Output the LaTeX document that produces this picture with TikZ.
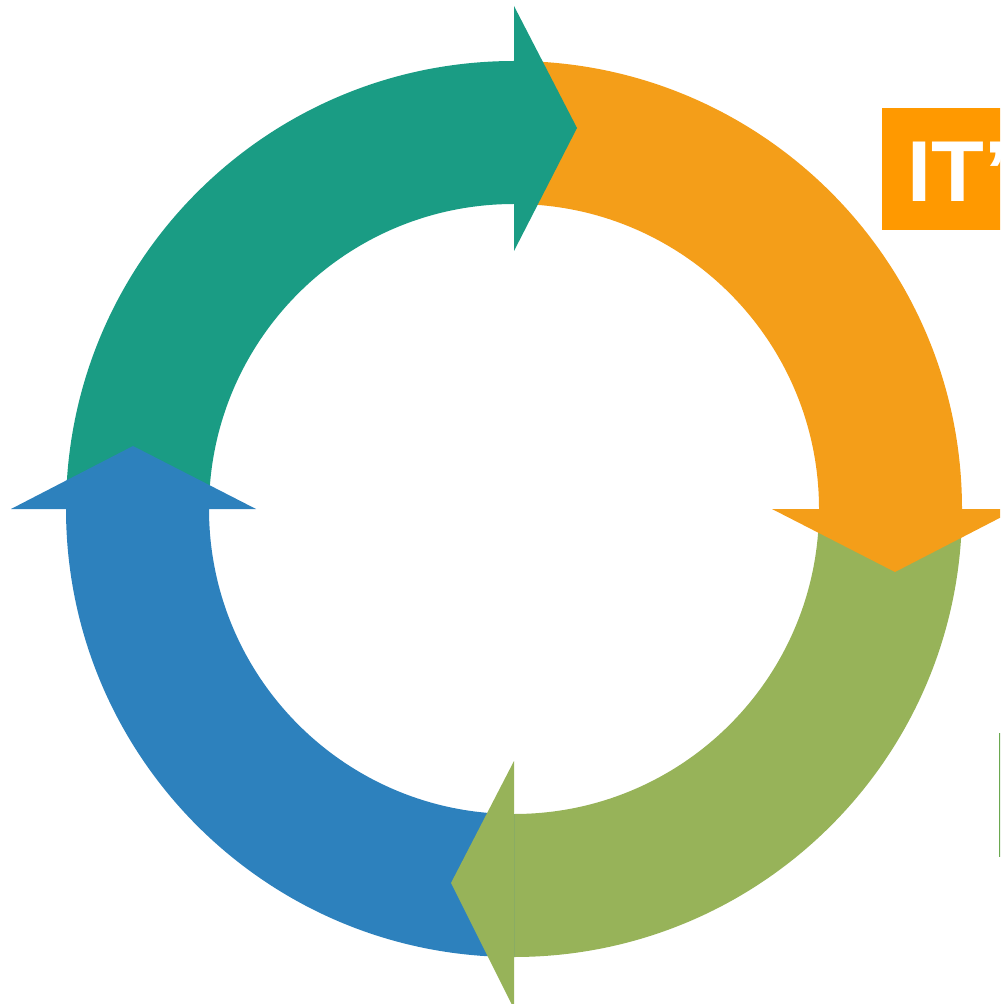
\documentclass[tikz,border=0pt]{standalone}
\usepackage{fontspec}
\setmainfont{Liberation Sans}
\usetikzlibrary{calc}
\definecolor{cycTeal}{HTML}{1A9C84}
\definecolor{cycOrange}{HTML}{F49E19}
\definecolor{cycLime}{HTML}{97B359}
\definecolor{cycBlue}{HTML}{2D81BD}
\definecolor{tagOrange}{HTML}{FF9900}
\definecolor{edgeGreen}{HTML}{6AA84F}
\begin{document}
\begin{tikzpicture}[x=0.1mm,y=-0.1mm]
\useasboundingbox (0,0) rectangle (1000,1004);
\clip (0,0) rectangle (1000,1004);
\coordinate (c) at (514,509);
% ring segments: outer radius 448, inner radius 305
\foreach \a/\col in {180/cycTeal,270/cycOrange,0/cycLime,90/cycBlue}{
  \fill[\col] ($(c)+(\a:448)$) arc[start angle=\a, end angle=\a+90, radius=448]
    -- ($(c)+(\a+90:305)$) arc[start angle=\a+90, end angle=\a, radius=305] -- cycle;
}
% arrowheads at the end of each segment, pointing clockwise
\foreach \a/\col/\ri/\ro/\rm in {270/cycTeal/258/503/381,0/cycOrange/258/503/381,90/cycLime/252/500/374,180/cycBlue/258/503/381}{
  \fill[\col] ($(c)+(\a:\ri)$) -- ($(c)+(\a:\ro)$) -- ($(c)+(\a:\rm)+(\a+90:63)$) -- cycle;
}
% heading tag
\fill[tagOrange] (882,108) rectangle (1020,230);
\node[anchor=base west, inner sep=0, text=white, font=\fontsize{24.6}{30}\selectfont\bfseries] (tag) at (907,202) {IT’};
% border of a panel at the right
\draw[edgeGreen, line width=0.2mm] (999.5,733) -- (999.5,857);
\end{tikzpicture}
\end{document}
